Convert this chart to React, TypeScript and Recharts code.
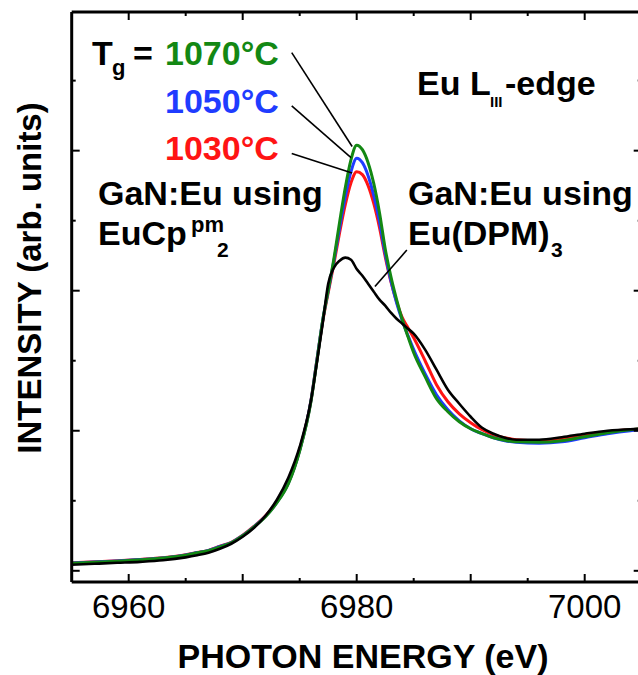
import { LineChart, Line, XAxis, YAxis, ReferenceLine } from "recharts";

// photon energy grid (eV)
const ENERGY = [
  6955, 6957, 6959, 6961, 6963, 6965, 6966, 6967, 6968, 6969, 6970, 6971, 6972, 6973, 6974, 6975,
  6976, 6976.5, 6977, 6977.5, 6978, 6978.5, 6979, 6979.5, 6980, 6980.5, 6981, 6981.5, 6982, 6982.5,
  6983, 6983.5, 6984, 6984.5, 6985, 6986, 6987, 6988, 6989, 6990, 6991, 6992, 6993, 6994, 6996, 6998,
  7000, 7002, 7004, 7005,
];

// GaN:Eu using EuCp^pm_2, Tg = 1030 °C
const TG1030 = [
  0.057, 0.064, 0.071, 0.081, 0.093, 0.114, 0.131, 0.146, 0.175, 0.204, 0.254, 0.318, 0.393, 0.493, 0.629, 0.864,
  1.221, 1.5, 1.771, 1.986, 2.193, 2.414, 2.614, 2.771, 2.85, 2.829, 2.75, 2.621, 2.45, 2.243,
  2.064, 1.921, 1.807, 1.736, 1.664, 1.5, 1.329, 1.207, 1.121, 1.057, 1.007, 0.971, 0.95, 0.936, 0.929, 0.943,
  0.971, 0.993, 1.007, 1.011,
];

// Tg = 1050 °C
const TG1050 = [
  0.055, 0.062, 0.07, 0.08, 0.092, 0.113, 0.13, 0.145, 0.174, 0.202, 0.252, 0.316, 0.389, 0.489, 0.625, 0.861,
  1.221, 1.5, 1.779, 2.0, 2.214, 2.45, 2.671, 2.85, 2.946, 2.914, 2.821, 2.679, 2.493, 2.264,
  2.071, 1.914, 1.786, 1.679, 1.579, 1.407, 1.257, 1.15, 1.071, 1.014, 0.979, 0.95, 0.929, 0.918, 0.911, 0.921,
  0.95, 0.979, 1.0, 1.007,
];

// Tg = 1070 °C
const TG1070 = [
  0.054, 0.061, 0.069, 0.079, 0.091, 0.111, 0.129, 0.143, 0.171, 0.2, 0.25, 0.314, 0.386, 0.486, 0.621, 0.857,
  1.214, 1.493, 1.779, 2.004, 2.229, 2.489, 2.736, 2.936, 3.039, 3.007, 2.914, 2.764, 2.557, 2.3,
  2.1, 1.936, 1.793, 1.671, 1.557, 1.386, 1.229, 1.136, 1.064, 1.014, 0.979, 0.95, 0.932, 0.921, 0.918, 0.929,
  0.957, 0.986, 1.007, 1.014,
];

// GaN:Eu using Eu(DPM)_3
const DPM = [
  0.043, 0.05, 0.057, 0.064, 0.075, 0.096, 0.111, 0.129, 0.157, 0.193, 0.243, 0.307, 0.393, 0.507, 0.664, 0.886,
  1.221, 1.483, 1.757, 2.05, 2.164, 2.214, 2.236, 2.221, 2.155, 2.107, 2.05, 1.993, 1.936, 1.893,
  1.843, 1.8, 1.764, 1.729, 1.693, 1.579, 1.436, 1.293, 1.193, 1.1, 1.021, 0.979, 0.95, 0.936, 0.936, 0.954,
  0.979, 1.0, 1.011, 1.014,
];

const X_TICKS = [6960, 6965, 6970, 6975, 6980, 6985, 6990, 6995, 7000];
const Y_TICKS = [0, 0.5, 1, 1.5, 2, 2.5, 3, 3.5];

// leader lines from labels to curves
const LEADERS = [
  [{ x: 6974.3, y: 3.7 }, { x: 6979.6, y: 3.03 }],
  [{ x: 6974.3, y: 3.32 }, { x: 6979.5, y: 2.95 }],
  [{ x: 6974.3, y: 2.98 }, { x: 6979.6, y: 2.84 }],
  [{ x: 6984.4, y: 2.29 }, { x: 6981.6, y: 2.03 }],
];

const GREEN = "#138813";
const BLUE = "#1f3cff";
const RED = "#ff1414";
const FONT = "'Liberation Sans', Arial, sans-serif";

const data = ENERGY.map((e, i) => ({
  e,
  r: TG1030[i],
  b: TG1050[i],
  g: TG1070[i],
  k: DPM[i],
}));

const BottomTick = (props: any) => {
  const { x, y, payload } = props;
  const v = payload.value;
  const len = v % 10 === 0 ? 8 : 4;
  return (
    <g>
      <line x1={x} x2={x} y1={y} y2={y - len} stroke="#000" strokeWidth={2} />
      {v % 20 === 0 && (
        <text x={x} y={y + 36} textAnchor="middle" fontSize={33} fill="#000">
          {v}
        </text>
      )}
    </g>
  );
};

const TopTick = (props: any) => {
  const { x, y, payload } = props;
  const len = payload.value % 10 === 0 ? 8 : 4;
  return <line x1={x} x2={x} y1={y} y2={y + len} stroke="#000" strokeWidth={2} />;
};

const LeftTick = (props: any) => {
  const { x, y, payload } = props;
  const len = Number.isInteger(payload.value) ? 8 : 4;
  return <line x1={x} x2={x + len} y1={y} y2={y} stroke="#000" strokeWidth={2} />;
};

const RightTick = (props: any) => {
  const { x, y, payload } = props;
  const len = Number.isInteger(payload.value) ? 8 : 4;
  return <line x1={x} x2={x - len} y1={y} y2={y} stroke="#000" strokeWidth={2} />;
};

const B = { fontWeight: "bold" as const, fontSize: 34 };
const AXIS_LINE = { stroke: "#000", strokeWidth: 3 };

export default function App() {
  return (
    <div
      style={{
        position: "absolute",
        left: 0,
        top: 0,
        width: 638,
        height: 675,
        overflow: "hidden",
        background: "#fff",
        fontFamily: FONT,
      }}
    >
      <LineChart
        width={660}
        height={675}
        data={data}
        margin={{ top: 11, right: 17.3, bottom: 92, left: 70.7 }}
      >
        <XAxis
          dataKey="e"
          type="number"
          domain={[6955, 7005]}
          ticks={X_TICKS}
          allowDataOverflow
          height={1}
          tickSize={0}
          tickMargin={0}
          tickLine={false}
          tick={<BottomTick />}
          axisLine={AXIS_LINE}
        />
        <XAxis
          xAxisId="top"
          orientation="top"
          dataKey="e"
          type="number"
          domain={[6955, 7005]}
          ticks={X_TICKS}
          allowDataOverflow
          height={1}
          tickSize={0}
          tickMargin={0}
          tickLine={false}
          tick={<TopTick />}
          axisLine={AXIS_LINE}
        />
        <YAxis
          type="number"
          domain={[-0.08, 3.99]}
          ticks={Y_TICKS}
          allowDataOverflow
          width={1}
          tickSize={0}
          tickMargin={0}
          tickLine={false}
          tick={<LeftTick />}
          axisLine={AXIS_LINE}
        />
        <YAxis
          yAxisId="right"
          orientation="right"
          type="number"
          domain={[-0.08, 3.99]}
          ticks={Y_TICKS}
          allowDataOverflow
          width={1}
          tickSize={0}
          tickMargin={0}
          tickLine={false}
          tick={<RightTick />}
          axisLine={AXIS_LINE}
        />
        <Line dataKey="r" type="monotone" stroke={RED} strokeWidth={3} dot={false} isAnimationActive={false} />
        <Line dataKey="b" type="monotone" stroke={BLUE} strokeWidth={3} dot={false} isAnimationActive={false} />
        <Line dataKey="g" type="monotone" stroke={GREEN} strokeWidth={3} dot={false} isAnimationActive={false} />
        <Line dataKey="k" type="monotone" stroke="#000" strokeWidth={2.6} dot={false} isAnimationActive={false} />
        {LEADERS.map((seg, i) => (
          <ReferenceLine key={i} segment={seg} stroke="#000" strokeWidth={1.6} />
        ))}

        {/* annotations */}
        <text x={92} y={65} {...B}>T</text>
        <text x={112} y={75} fontWeight="bold" fontSize={22}>g</text>
        <text x={133} y={65} {...B}>=</text>
        <text x={165} y={65} {...B} fill={GREEN}>1070°C</text>
        <text x={165} y={113} {...B} fill={BLUE}>1050°C</text>
        <text x={165} y={160} {...B} fill={RED}>1030°C</text>
        <text x={98} y={205} {...B}>GaN:Eu using</text>
        <text x={98} y={245} {...B}>EuCp</text>
        <text x={191} y={232} fontWeight="bold" fontSize={22}>pm</text>
        <text x={217} y={257} fontWeight="bold" fontSize={21}>2</text>
        <text x={417} y={95} {...B}>Eu L</text>
        <text x={490} y={107} fontWeight="bold" fontSize={15}>III</text>
        <text x={505} y={95} {...B}>-edge</text>
        <text x={408} y={205} {...B}>GaN:Eu using</text>
        <text x={408} y={245} {...B}>Eu(DPM)</text>
        <text x={551} y={257} fontWeight="bold" fontSize={21}>3</text>

        {/* axis titles */}
        <text x={363} y={668} textAnchor="middle" {...B}>PHOTON ENERGY (eV)</text>
        <text x={41} y={278} textAnchor="middle" transform="rotate(-90, 41, 278)" fontWeight="bold" fontSize={33}>
          INTENSITY (arb. units)
        </text>
      </LineChart>
    </div>
  );
}
